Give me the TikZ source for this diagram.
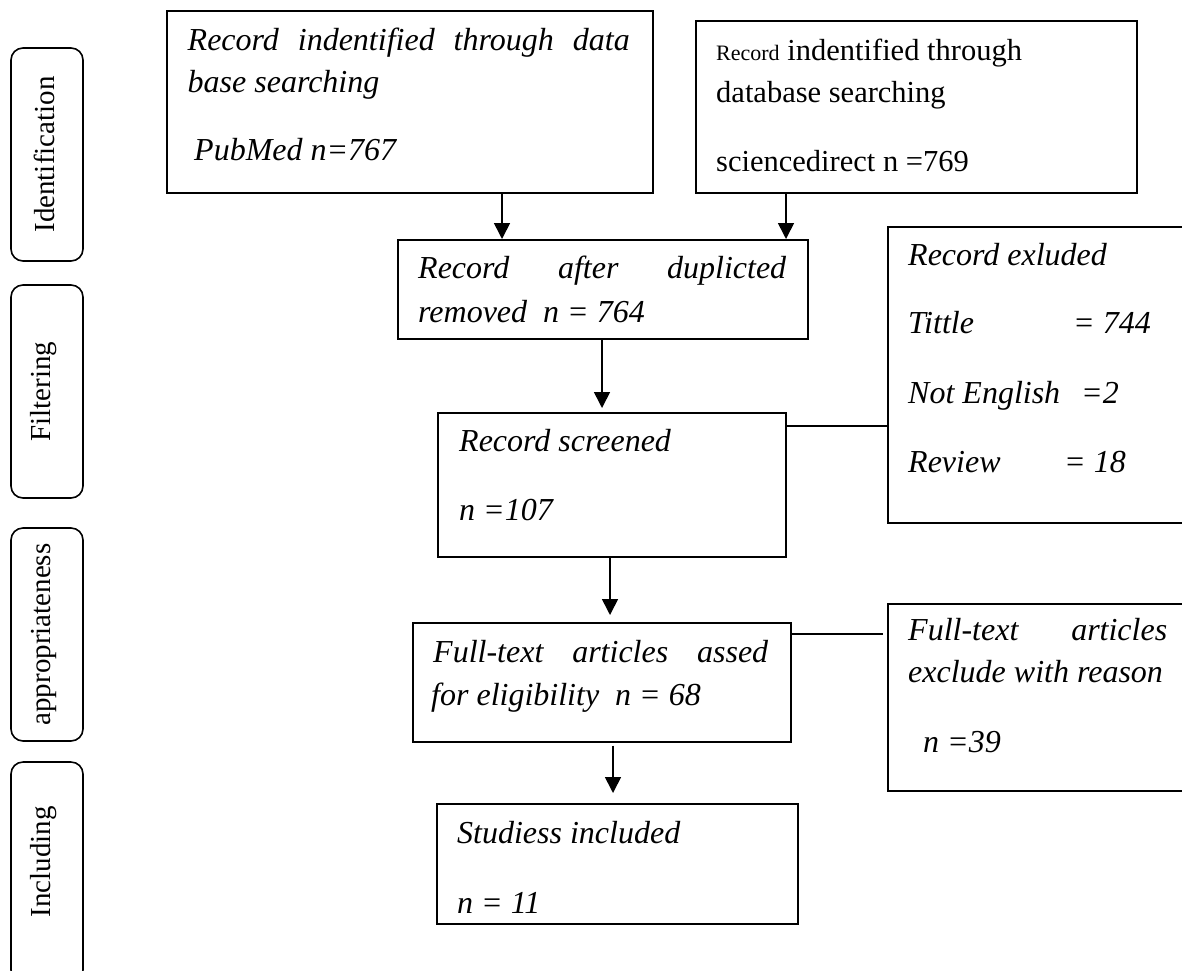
\documentclass[tikz,border=0pt]{standalone}
\usepackage{fontspec}
\setmainfont{Liberation Serif}
\usetikzlibrary{arrows.meta}
\begin{document}
\begin{tikzpicture}[x=1pt,y=-1pt,
 box/.style={draw, line width=1.6pt, inner sep=0pt, anchor=north west},
 lab/.style={draw, line width=1.6pt, rounded corners=12pt},
 labtxt/.style={rotate=90, inner sep=0pt, font=\fontsize{29}{34}\selectfont},
 txt/.style={anchor=base west, inner sep=0pt, font=\fontsize{32}{38}\selectfont\itshape},
 rtxt/.style={anchor=base west, inner sep=0pt, font=\fontsize{30.5}{36}\selectfont},
 arr/.style={line width=1.6pt, -{Triangle[length=16pt,width=16pt]}},
 conn/.style={line width=1.6pt}]
\useasboundingbox (0,0) rectangle (1182,970);
\begin{scope}
\clip (0,0) rectangle (1182,970);
% side labels
\draw[lab] (11,48) rectangle (83,261);
\node[labtxt] (l1) at (44,154.5) {Identification};
\draw[lab] (11,285) rectangle (83,498);
\node[labtxt] (l2) at (44,391.5) {Filtering};
\draw[lab] (11,528) rectangle (83,741);
\node[labtxt] (l3) at (44,634.5) {appropriateness};
\draw[lab] (11,762) rectangle (83,982);
\node[labtxt] (l4) at (44,862) {Including};

% boxes
\node[box, minimum width=486pt, minimum height=182pt] (A) at (166,10) {};
\node[box, minimum width=441pt, minimum height=172pt] (B) at (695,20) {};
\node[box, minimum width=410pt, minimum height=99pt] (C) at (397,239) {};
\node[box, minimum width=348pt, minimum height=144pt] (D) at (437,412) {};
\node[box, minimum width=378pt, minimum height=119pt] (E) at (412,622) {};
\node[box, minimum width=361pt, minimum height=120pt] (F) at (436,803) {};
\node[box, minimum width=320pt, minimum height=296pt] (X1) at (887,226) {};
\node[box, minimum width=320pt, minimum height=187pt] (X2) at (887,603) {};
\end{scope}

% texts
\node[txt] (ta1) at (187.5,50) {\makebox[442pt][s]{Record indentified through data}};
\node[txt] (ta2) at (187.5,92) {base searching};
\node[txt] (ta3) at (194,160) {PubMed n=767};

\node[rtxt] (tb1) at (716,60) {{\fontsize{22}{26}\selectfont Record} indentified through};
\node[rtxt] (tb2) at (716,102) {database searching};
\node[rtxt] (tb3) at (716,171) {sciencedirect n =769};

\node[txt] (tc1) at (418,278) {\makebox[368pt][s]{Record after duplicted}};
\node[txt] (tc2) at (418,322) {removed\ \ n = 764};

\node[txt] (tx1) at (908,265) {Record exluded};
\node[txt] (tx2) at (908,333) {\makebox[165pt][l]{Tittle}= 744};
\node[txt] (tx3) at (908,403) {\makebox[173pt][l]{Not English}=2};
\node[txt] (tx4) at (908,472) {\makebox[156pt][l]{Review}= 18};

\node[txt] (td1) at (459,451) {Record screened};
\node[txt] (td2) at (459,520) {n =107};

\node[txt] (te1) at (433,662) {\makebox[335pt][s]{Full-text articles assed}};
\node[txt] (te2) at (431,705) {for eligibility\ \ n = 68};

\node[txt] (ty1) at (908,640) {\makebox[259pt][s]{Full-text articles}};
\node[txt] (ty2) at (908,682) {exclude with reason};
\node[txt] (ty3) at (923,752) {n =39};

\node[txt] (tf1) at (457,843) {Studiess included};
\node[txt] (tf2) at (457,913) {n = 11};

% connectors
\coordinate (xa) at (502,0);
\coordinate (xb) at (786,0);
\coordinate (xc) at (602,0);
\coordinate (xd) at (610,0);
\coordinate (xe) at (613,0);
\coordinate (yd) at (0,426);
\coordinate (ye) at (0,634);
\draw[arr] (A.south -| xa) -- (C.north -| xa);
\draw[arr] (B.south -| xb) -- (C.north -| xb);
\draw[arr, shorten >=4pt] (C.south -| xc) -- (D.north -| xc);
\draw[arr, shorten >=7pt] (D.south -| xd) -- (E.north -| xd);
\draw[arr, shorten <=3pt, shorten >=10pt] (E.south -| xe) -- (F.north -| xe);
\draw[conn] (D.east |- yd) -- (X1.west |- yd);
\draw[conn, shorten >=4pt] (E.east |- ye) -- (X2.west |- ye);
\end{tikzpicture}
\end{document}
